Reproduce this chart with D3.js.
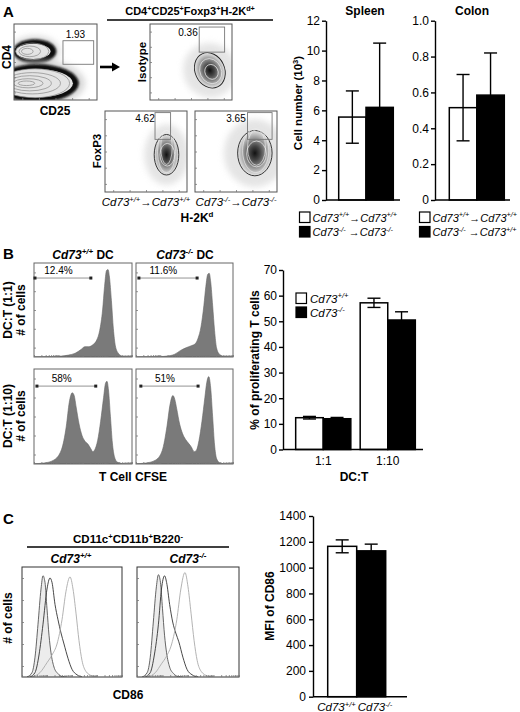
<!DOCTYPE html>
<html><head><meta charset="utf-8">
<script src="https://cdn.jsdelivr.net/npm/d3@7"></script>
<style>
html,body{margin:0;padding:0;background:#fff;}
svg{display:block;}
</style></head><body>
<svg id="fig" width="520" height="712"></svg>
<script>
// ================= DATA =================
// Panel A – bar charts
const barGroups = ["wt", "ko"];
const spleenTicks = [0, 2, 4, 6, 8, 10, 12];
const spleenMean = [5.55, 6.2];
const spleenSD = [1.75, 4.3];
const colonTicks = [0, 0.2, 0.4, 0.6, 0.8, 1.0];
const colonMean = [0.515, 0.585];
const colonSD = [0.185, 0.235];
const gateLabelsA = ["1.93", "0.36", "4.62", "3.65"];

// Panel A – flow contour levels [cx, cy, rx, ry, rotation] in plot units (0-100)
const cd4Upper = [[25, 64, 26, 16, 0], [22, 64, 20, 11, 0], [19, 64, 13, 7, 0], [16, 64, 7, 4, 0]];
const cd4Lower = [[28, 22, 50, 25, 0], [25, 22, 42, 19, 0], [22, 22, 34, 14, 0], [19, 22, 26, 10, 0], [17, 22, 18, 6, 0], [15, 22, 10, 3, 0]];
const isoContours = [[73, 39, 18, 24, -25], [74, 38, 13, 17, -25], [75, 37, 8, 10, -25]];
const foxWtContours = [[75, 46, 15, 25, 0], [75, 50, 11, 26, 0], [75, 55, 7, 21, 0], [76, 46, 9, 14, 0]];
const foxKoContours = [[73, 48, 21, 28, 0], [74, 51, 16, 27, 0], [75, 55, 11, 22, 0], [75, 47, 12, 16, 0]];
const gateRectsA = [[59, 47, 96, 78], [60, 63, 91, 96], [61, 65, 80, 98], [64, 65, 94, 98]];

// Panel B – CFSE histograms [channel, % of max]
const cfse11WT = [[0,0.3],[20,0.5],[28,1],[35,2],[42,4],[48,8],[52,11],[56,11],[60,13],[64,18],[67,28],[70,50],[72,75],[74,92],[75.5,93],[77,85],[79,60],[81,30],[83,12],[86,4],[90,1],[95,0.5],[100,0.3]];
const cfse11KO = [[0,0.3],[25,0.5],[32,1],[40,3],[46,7],[52,10],[57,12],[61,14],[64,20],[67,32],[70,55],[72,75],[74,88],[75.5,89],[77,80],[79,55],[81,28],[83,10],[86,3],[90,1],[100,0.3]];
const cfse110WT = [[0,0.3],[10,1],[20,4],[28,15],[33,40],[36,65],[39,75],[41,72],[43,60],[46,42],[49,30],[52,24],[55,21],[58,16],[60,13],[62,15],[65,25],[68,45],[71,70],[73,85],[74.5,87],[76,78],[78,50],[80,22],[82,8],[85,2],[90,0.5],[100,0.2]];
const cfse110KO = [[0,0.3],[10,1],[20,4],[27,14],[32,40],[35,62],[38,72],[40,68],[42,58],[45,42],[48,32],[51,26],[54,22],[57,18],[60,13],[62,14],[65,25],[68,45],[71,70],[73,86],[75,92],[77,80],[79,50],[81,20],[83,6],[86,1.5],[90,0.4],[100,0.2]];
const cfseGates = [[1, 58, 84], [3, 63, 84], [3, 63, 82], [5, 64, 82]];
const gateLabelsB = ["12.4%", "11.6%", "58%", "51%"];

// Panel B – proliferation bar chart
const prolifGroups = ["1:1", "1:10"];
const prolifTicks = [0, 10, 20, 30, 40, 50, 60, 70];
const prolifWT = [12.4, 57.2];
const prolifWTsd = [0.5, 1.8];
const prolifKO = [12.0, 50.5];
const prolifKOsd = [0.5, 3.2];

// Panel C – CD86 histograms [channel, % of max]
const cd86IsoWT = [[5,0],[10,4],[13,18],[16,48],[19,80],[21,92],[23,86],[25,62],[27,38],[29,22],[32,9],[36,3],[40,0.5],[45,0]];
const cd86UnWT = [[8,0],[13,4],[17,20],[21,48],[25,80],[28,90],[30,86],[33,66],[36,52],[39,40],[42,30],[46,17],[50,7],[55,2],[60,0]];
const cd86StWT = [[10,0],[18,4],[25,13],[30,20],[35,30],[40,52],[44,78],[48,91],[51,80],[54,58],[57,33],[60,15],[64,5],[70,1],[75,0]];
const cd86IsoKO = [[5,0],[10,4],[13,18],[16,50],[19,82],[21,93],[23,86],[25,62],[27,38],[29,22],[32,9],[36,3],[40,0.5],[45,0]];
const cd86UnKO = [[8,0],[13,4],[17,20],[21,48],[24,80],[27,92],[29,86],[32,66],[35,50],[38,40],[41,32],[45,18],[49,7],[54,2],[60,0]];
const cd86StKO = [[10,0],[18,4],[24,12],[29,19],[34,30],[39,52],[43,80],[47,95],[50,82],[53,58],[56,33],[59,15],[63,5],[69,1],[75,0]];

// Panel C – MFI bar chart
const cd86Ticks = [0, 200, 400, 600, 800, 1000, 1200, 1400];
const cd86Mean = [1165, 1130];
const cd86SD = [50, 52];

// ================= DRAWING =================
const FONT = '"Liberation Sans", Arial, Helvetica, sans-serif';
const TICK_FS = 12;
const svg = d3.select("#fig").attr("font-family", FONT);
const defs = svg.append("defs");

const grad = defs.append("radialGradient").attr("id", "dens");
[[0, "#111", 1], [0.3, "#444", 1], [0.6, "#888", 1], [0.85, "#c4c4c4", 1], [1, "#e6e6e6", 1]]
  .forEach(([o, c, a]) => grad.append("stop").attr("offset", o).attr("stop-color", c).attr("stop-opacity", a));
defs.append("filter").attr("id", "halo").attr("x", "-50%").attr("y", "-50%").attr("width", "200%").attr("height", "200%")
  .append("feGaussianBlur").attr("stdDeviation", 3);
defs.append("filter").attr("id", "soft").attr("x", "-20%").attr("y", "-20%").attr("width", "140%").attr("height", "140%")
  .append("feGaussianBlur").attr("stdDeviation", 0.8);

function rich(sel, parts, fs) {
  let prevSup = false;
  parts.forEach(([t, f]) => {
    const sup = f.includes("s");
    const ts = sel.append("tspan").text(t);
    if (f.includes("i")) ts.attr("font-style", "italic");
    if (f.includes("b")) ts.attr("font-weight", "bold");
    if (sup && !prevSup) ts.attr("dy", -fs * 0.38);
    if (!sup && prevSup) ts.attr("dy", fs * 0.38);
    if (sup) ts.attr("font-size", fs * 0.66);
    prevSup = sup;
  });
  return sel;
}
function label(x, y, parts, opt = {}) {
  const fs = opt.fs || 11.5;
  const t = svg.append("text")
    .attr("transform", `translate(${x},${y})` + (opt.rot ? ` rotate(${opt.rot})` : ""))
    .attr("text-anchor", opt.anchor || "middle")
    .attr("font-size", fs)
    .attr("font-weight", opt.bold ? "bold" : "normal")
    .attr("font-style", opt.italic ? "italic" : "normal");
  return rich(t, parts, fs);
}

// ---------- flow plot helper ----------
let clipId = 0;
function flowBox(box) {
  const xs = d3.scaleLinear([0, 100], [box[0], box[2]]);
  const ys = d3.scaleLinear([0, 100], [box[3], box[1]]);
  const id = "clip" + (clipId++);
  defs.append("clipPath").attr("id", id).append("rect")
    .attr("x", box[0]).attr("y", box[1]).attr("width", box[2] - box[0]).attr("height", box[3] - box[1]);
  const g = svg.append("g");
  const inner = g.append("g").attr("clip-path", `url(#${id})`);
  return { xs, ys, g, inner, box };
}
function finishBox(fb, opts = {}) {
  const { xs, ys, g, box } = fb;
  g.append("rect").attr("x", box[0]).attr("y", box[1]).attr("width", box[2] - box[0]).attr("height", box[3] - box[1])
    .attr("fill", "none").attr("stroke", opts.stroke || "#555").attr("stroke-width", 1);
  const lg = d3.scaleLog([1, 10000], [box[0], box[2]]);
  const bx = g.append("g").attr("transform", `translate(0,${box[3]})`)
    .call(d3.axisBottom(opts.logBottom ? lg : xs).tickValues(opts.logBottom ? lg.ticks() : [10, 30, 50, 70, 90]).tickSize(-2).tickFormat(""));
  const ly = g.append("g").attr("transform", `translate(${box[0]},0)`)
    .call(d3.axisLeft(ys).tickValues([10, 30, 50, 70, 90]).tickSize(-2).tickFormat(""));
  [bx, ly].forEach(a => { a.select(".domain").remove(); a.selectAll("line").attr("stroke", "#777").attr("stroke-width", 0.8); });
}
function ell(sel, fb, e) {
  const [cx, cy, rx, ry, rot] = e;
  const px = fb.xs(cx), py = fb.ys(cy);
  return sel.append("ellipse").attr("cx", px).attr("cy", py)
    .attr("rx", fb.xs(rx) - fb.xs(0)).attr("ry", fb.ys(0) - fb.ys(ry))
    .attr("transform", `rotate(${rot || 0},${px},${py})`);
}
function gateRect(fb, r) {
  fb.g.append("rect").attr("x", fb.xs(r[0])).attr("y", fb.ys(r[3]))
    .attr("width", fb.xs(r[2]) - fb.xs(r[0])).attr("height", fb.ys(r[1]) - fb.ys(r[3]))
    .attr("fill", "none").attr("stroke", "#777").attr("stroke-width", 0.9);
}
function densityBlob(fb, levels) {
  const outer = levels[0];
  ell(fb.inner, fb, [outer[0], outer[1], outer[2] * 1.8, outer[3] * 1.5, outer[4]])
    .attr("fill", "#cfcfcf").attr("opacity", 0.55).attr("filter", "url(#halo)");
  ell(fb.inner, fb, outer).attr("fill", "url(#dens)").attr("stroke", "#222").attr("stroke-width", 0.9);
  levels.slice(1).forEach((e, i) => ell(fb.inner, fb, e).attr("fill", "none")
    .attr("stroke", i === levels.length - 2 ? "#fff" : "#eee").attr("stroke-width", 0.7).attr("opacity", 0.9));
}

// ================= PANEL A =================
label(3, 17, [["A", ""]], { fs: 15, bold: true, anchor: "start" });
label(190, 15, [["CD4", ""], ["+", "s"], ["CD25", ""], ["+", "s"], ["Foxp3", ""], ["+", "s"], ["H-2K", ""], ["d+", "s"]], { fs: 11, bold: true });
svg.append("line").attr("x1", 107).attr("x2", 273).attr("y1", 20).attr("y2", 20).attr("stroke", "#000").attr("stroke-width", 1.3);

// CD4 vs CD25
const fA1 = flowBox([14, 24, 97, 100]);
[cd4Upper, cd4Lower].forEach(lv => {
  ell(fA1.inner, fA1, [lv[0][0], lv[0][1], lv[0][2] * 1.15, lv[0][3] * 1.25, 0]).attr("fill", "#bbb").attr("opacity", 0.6).attr("filter", "url(#halo)");
  ell(fA1.inner, fA1, lv[0]).attr("fill", "#0a0a0a").attr("filter", "url(#soft)");
  ell(fA1.inner, fA1, [lv[0][0] - 2, lv[0][1], lv[0][2] - 5, lv[0][3] - 6, 0]).attr("fill", "#e4e4e4");
  lv.slice(1).forEach(e => ell(fA1.inner, fA1, e).attr("fill", "none").attr("stroke", "#888").attr("stroke-width", 0.7));
});
finishBox(fA1);
gateRect(fA1, gateRectsA[0]);
label(fA1.xs(74), 38, [[gateLabelsA[0], ""]], { fs: 10 });
label(11, 57, [["CD4", ""]], { rot: -90, bold: true, fs: 12 });
label(55, 115, [["CD25", ""]], { bold: true, fs: 12 });

// arrow
svg.append("line").attr("x1", 100).attr("x2", 113).attr("y1", 67).attr("y2", 67).attr("stroke", "#000").attr("stroke-width", 2.6);
svg.append("path").attr("d", "M112,62.5 L120,67 L112,71.5 Z").attr("fill", "#000");

// Isotype
const fIso = flowBox([150, 24, 232, 100]);
densityBlob(fIso, isoContours);
finishBox(fIso);
gateRect(fIso, gateRectsA[1]);
label(188, 36, [[gateLabelsA[1], ""]], { fs: 10 });
label(146, 62, [["Isotype", ""]], { rot: -90, bold: true, fs: 11.5 });

// FoxP3 WT
const fFw = flowBox([105, 111, 187, 192]);
densityBlob(fFw, foxWtContours);
finishBox(fFw);
gateRect(fFw, gateRectsA[2]);
label(145, 122, [[gateLabelsA[2], ""]], { fs: 10 });
// FoxP3 KO
const fFk = flowBox([195, 111, 277, 192]);
densityBlob(fFk, foxKoContours);
finishBox(fFk);
gateRect(fFk, gateRectsA[3]);
label(236, 122, [[gateLabelsA[3], ""]], { fs: 10 });
label(101, 151, [["FoxP3", ""]], { rot: -90, bold: true, fs: 11.5 });
label(146, 206, [["Cd73", "i"], ["+/+", "si"], ["→", ""], ["Cd73", "i"], ["+/+", "si"]], { fs: 11.5 });
label(236, 206, [["Cd73", "i"], ["-/-", "si"], ["→", ""], ["Cd73", "i"], ["-/-", "si"]], { fs: 11.5 });
label(197, 222, [["H-2K", ""], ["d", "s"]], { bold: true, fs: 12 });

// ---------- bar chart helper ----------
function styleAxis(a, fs) {
  a.attr("font-family", FONT).attr("font-size", fs || TICK_FS);
  a.select(".domain").attr("stroke", "#000").attr("stroke-width", 1.4);
  a.selectAll(".tick line").attr("stroke", "#000").attr("stroke-width", 1.4);
  a.selectAll(".tick text").attr("fill", "#000");
}
function simpleBars(cfg) {
  const y = d3.scaleLinear([0, cfg.max], cfg.yRange);
  const x = d3.scaleBand(barGroups, cfg.band).paddingInner(0);
  const ax = svg.append("g").attr("transform", `translate(${cfg.axisX},0)`)
    .call(d3.axisLeft(y).tickValues(cfg.ticks).tickSize(4).tickSizeOuter(0).tickPadding(2).tickFormat(cfg.fmt));
  styleAxis(ax);
  svg.append("line").attr("x1", cfg.axisX).attr("x2", cfg.xEnd).attr("y1", y(0)).attr("y2", y(0)).attr("stroke", "#000").attr("stroke-width", 1.4);
  barGroups.forEach((gname, i) => {
    const m = cfg.mean[i], s = cfg.sd[i], cx = x(gname) + x.bandwidth() / 2;
    svg.append("line").attr("x1", cx).attr("x2", cx).attr("y1", y(m + s)).attr("y2", y(m - s)).attr("stroke", "#000").attr("stroke-width", 1.4);
    [m + s, m - s].forEach(v => svg.append("line").attr("x1", cx - 6.5).attr("x2", cx + 6.5).attr("y1", y(v)).attr("y2", y(v)).attr("stroke", "#000").attr("stroke-width", 1.4));
  });
  barGroups.forEach((gname, i) => {
    svg.append("rect").attr("x", x(gname)).attr("y", y(cfg.mean[i])).attr("width", x.bandwidth()).attr("height", y(0) - y(cfg.mean[i]))
      .attr("fill", i === 0 ? "none" : "#000").attr("stroke", "#000").attr("stroke-width", 1.5);
  });
  return { x, y };
}

// Spleen
simpleBars({ max: 12, yRange: [200, 20.7], band: [338.7, 393.3], axisX: 326, xEnd: 400, ticks: spleenTicks, fmt: d3.format("d"), mean: spleenMean, sd: spleenSD });
label(365, 15, [["Spleen", ""]], { bold: true, fs: 12 });
label(302, 103, [["Cell number (10", ""], ["3", "s"], [")", ""]], { rot: -90, bold: true, fs: 11.5 });
// Colon
simpleBars({ max: 1.0, yRange: [200, 20.7], band: [449.3, 504.3], axisX: 435, xEnd: 510, ticks: colonTicks, fmt: d => d === 0 ? "0" : d3.format(".1f")(d), mean: colonMean, sd: colonSD });
label(472, 15, [["Colon", ""]], { bold: true, fs: 12 });

function legendItem(x, y, fill, parts) {
  svg.append("rect").attr("x", x).attr("y", y).attr("width", 10.5).attr("height", 10.5)
    .attr("fill", fill).attr("stroke", "#000").attr("stroke-width", 1.2);
  label(x + 13, y + 9.5, parts, { anchor: "start", fs: 11 });
}
legendItem(299.5, 212, "#fff", [["Cd73", "i"], ["+/+", "si"], ["→", ""], ["Cd73", "i"], ["+/+", "si"]]);
legendItem(299.5, 226.5, "#000", [["Cd73", "i"], ["-/-", "si"], [" →", ""], ["Cd73", "i"], ["-/-", "si"]]);
legendItem(419.5, 212, "#fff", [["Cd73", "i"], ["+/+", "si"], ["→", ""], ["Cd73", "i"], ["+/+", "si"]]);
legendItem(419.5, 226.5, "#000", [["Cd73", "i"], ["-/-", "si"], [" →", ""], ["Cd73", "i"], ["+/+", "si"]]);

// ================= PANEL B =================
label(3, 259, [["B", ""]], { fs: 15, bold: true, anchor: "start" });
label(83, 259, [["Cd73", "i"], ["+/+", "si"], [" DC", ""]], { bold: true, fs: 12 });
label(185, 259, [["Cd73", "i"], ["-/-", "si"], [" DC", ""]], { bold: true, fs: 12 });

const histBoxes = [[34, 263, 132, 357], [136, 263, 233, 357], [34, 369, 132, 464], [136, 369, 233, 464]];
const cfseSeries = [cfse11WT, cfse11KO, cfse110WT, cfse110KO];
cfseSeries.forEach((ser, i) => {
  const fb = flowBox(histBoxes[i]);
  const area = d3.area().x(d => fb.xs(d[0])).y0(fb.ys(0)).y1(d => fb.ys(d[1])).curve(d3.curveMonotoneX);
  fb.inner.append("path").datum(ser).attr("d", area).attr("fill", "#7a7a7a").attr("stroke", "#666").attr("stroke-width", 0.6);
  finishBox(fb, { logBottom: true, stroke: "#666" });
  const [a, b, h] = cfseGates[i];
  fb.g.append("line").attr("x1", fb.xs(a)).attr("x2", fb.xs(b)).attr("y1", fb.ys(h)).attr("y2", fb.ys(h)).attr("stroke", "#888").attr("stroke-width", 0.9);
  [a, b].forEach(v => fb.g.append("rect").attr("x", fb.xs(v) - 1.5).attr("y", fb.ys(h) - 1.5).attr("width", 3).attr("height", 3).attr("fill", "#222"));
  label(fb.xs(a + (b - a) * 0.42), fb.ys(h) - 4, [[gateLabelsB[i], ""]], { fs: 10 });
});
label(12, 310, [["DC:T (1:1)", ""]], { rot: -90, bold: true, fs: 12 });
label(25, 310, [["# of cells", ""]], { rot: -90, bold: true, fs: 12 });
label(12, 416, [["DC:T (1:10)", ""]], { rot: -90, bold: true, fs: 12 });
label(25, 416, [["# of cells", ""]], { rot: -90, bold: true, fs: 12 });
label(133, 481, [["T Cell CFSE", ""]], { bold: true, fs: 12 });

// proliferation bar chart
{
  const y = d3.scaleLinear([0, 70], [449.5, 270]);
  const x0 = d3.scaleBand(prolifGroups, [291, 420]).paddingInner(0.145).paddingOuter(0.0725);
  const x1 = d3.scaleBand(["wt", "ko"], [0, x0.bandwidth()]).paddingInner(0);
  const ax = svg.append("g").attr("transform", "translate(283,0)")
    .call(d3.axisLeft(y).tickValues(prolifTicks).tickSize(4).tickSizeOuter(0).tickPadding(2));
  styleAxis(ax);
  svg.append("line").attr("x1", 283).attr("x2", 423).attr("y1", y(0)).attr("y2", y(0)).attr("stroke", "#000").attr("stroke-width", 1.4);
  const series = [["wt", prolifWT, prolifWTsd, "#fff"], ["ko", prolifKO, prolifKOsd, "#000"]];
  prolifGroups.forEach((gname, gi) => {
    series.forEach(([k, mean, sd]) => {
      const cx = x0(gname) + x1(k) + x1.bandwidth() / 2, m = mean[gi], s = sd[gi];
      svg.append("line").attr("x1", cx).attr("x2", cx).attr("y1", y(m + s)).attr("y2", y(m - s)).attr("stroke", "#000").attr("stroke-width", 1.4);
      [m + s, m - s].forEach(v => svg.append("line").attr("x1", cx - 6.5).attr("x2", cx + 6.5).attr("y1", y(v)).attr("y2", y(v)).attr("stroke", "#000").attr("stroke-width", 1.4));
    });
    series.forEach(([k, mean, sd, fill]) => {
      svg.append("rect").attr("x", x0(gname) + x1(k)).attr("y", y(mean[gi])).attr("width", x1.bandwidth()).attr("height", y(0) - y(mean[gi]))
        .attr("fill", fill === "#fff" ? "none" : "#000").attr("stroke", "#000").attr("stroke-width", 1.5);
    });
    label(x0(gname) + x0.bandwidth() / 2, 465, [[gname, ""]], { fs: TICK_FS });
  });
  label(354, 481, [["DC:T", ""]], { bold: true, fs: 12 });
  label(259, 360, [["% of proliferating T cells", ""]], { rot: -90, bold: true, fs: 12 });
  svg.append("rect").attr("x", 296).attr("y", 293).attr("width", 10.5).attr("height", 10.5).attr("fill", "#fff").attr("stroke", "#000").attr("stroke-width", 1.2);
  label(310, 302.5, [["Cd73", "i"], ["+/+", "si"]], { anchor: "start", fs: 11.5 });
  svg.append("rect").attr("x", 296).attr("y", 307).attr("width", 10.5).attr("height", 10.5).attr("fill", "#000").attr("stroke", "#000").attr("stroke-width", 1.2);
  label(310, 316.5, [["Cd73", "i"], ["-/-", "si"]], { anchor: "start", fs: 11.5 });
}

// ================= PANEL C =================
label(3, 524, [["C", ""]], { fs: 15, bold: true, anchor: "start" });
label(128, 543, [["CD11c", ""], ["+", "s"], ["CD11b", ""], ["+", "s"], ["B220", ""], ["-", "s"]], { bold: true, fs: 11.5 });
svg.append("line").attr("x1", 27).attr("x2", 229).attr("y1", 547).attr("y2", 547).attr("stroke", "#000").attr("stroke-width", 1.3);
label(71, 563, [["Cd73", "i"], ["+/+", "si"]], { bold: true, fs: 12 });
label(188, 563, [["Cd73", "i"], ["-/-", "si"]], { bold: true, fs: 12 });
const cd86Boxes = [[22, 567, 122, 677], [137, 567, 239, 677]];
const cd86Sets = [[cd86IsoWT, cd86UnWT, cd86StWT], [cd86IsoKO, cd86UnKO, cd86StKO]];
cd86Sets.forEach((set, i) => {
  const fb = flowBox(cd86Boxes[i]);
  const area = d3.area().x(d => fb.xs(d[0])).y0(fb.ys(0)).y1(d => fb.ys(d[1])).curve(d3.curveMonotoneX);
  const line = d3.line().x(d => fb.xs(d[0])).y(d => fb.ys(d[1])).curve(d3.curveMonotoneX);
  fb.inner.append("path").datum(set[0]).attr("d", area).attr("fill", "#ececec").attr("stroke", "none");
  fb.inner.append("path").datum(set[0]).attr("d", line).attr("fill", "none").attr("stroke", "#555").attr("stroke-width", 0.9);
  fb.inner.append("path").datum(set[1]).attr("d", line).attr("fill", "none").attr("stroke", "#333").attr("stroke-width", 0.9);
  fb.inner.append("path").datum(set[2]).attr("d", line).attr("fill", "none").attr("stroke", "#aaa").attr("stroke-width", 0.9);
  finishBox(fb, { logBottom: true, stroke: "#333" });
});
label(12, 618, [["# of cells", ""]], { rot: -90, bold: true, fs: 12 });
label(128, 699, [["CD86", ""]], { bold: true, fs: 12 });

{
  const y = d3.scaleLinear([0, 1400], [696.7, 516]);
  const x = d3.scaleBand(barGroups, [327.7, 385.7]).paddingInner(0);
  const ax = svg.append("g").attr("transform", "translate(313,0)")
    .call(d3.axisLeft(y).tickValues(cd86Ticks).tickSize(4).tickSizeOuter(0).tickPadding(3).tickFormat(d3.format("d")));
  styleAxis(ax);
  svg.append("line").attr("x1", 313).attr("x2", 407).attr("y1", y(0)).attr("y2", y(0)).attr("stroke", "#000").attr("stroke-width", 1.4);
  barGroups.forEach((gname, i) => {
    const m = cd86Mean[i], s = cd86SD[i], cx = x(gname) + x.bandwidth() / 2;
    svg.append("line").attr("x1", cx).attr("x2", cx).attr("y1", y(m + s)).attr("y2", y(m - s)).attr("stroke", "#000").attr("stroke-width", 1.4);
    [m + s, m - s].forEach(v => svg.append("line").attr("x1", cx - 6.5).attr("x2", cx + 6.5).attr("y1", y(v)).attr("y2", y(v)).attr("stroke", "#000").attr("stroke-width", 1.4));
  });
  barGroups.forEach((gname, i) => {
    svg.append("rect").attr("x", x(gname)).attr("y", y(cd86Mean[i])).attr("width", x.bandwidth()).attr("height", y(0) - y(cd86Mean[i]))
      .attr("fill", i === 0 ? "none" : "#000").attr("stroke", "#000").attr("stroke-width", 1.5);
  });
  label(x(barGroups[0]) + x.bandwidth() - 1, 711, [["Cd73", "i"], ["+/+", "si"]], { anchor: "end", fs: 11.5 });
  label(x(barGroups[1]) + 1, 711, [["Cd73", "i"], ["-/-", "si"]], { anchor: "start", fs: 11.5 });
  label(274, 606, [["MFI of CD86", ""]], { rot: -90, bold: true, fs: 12 });
}
</script>
</body></html>
